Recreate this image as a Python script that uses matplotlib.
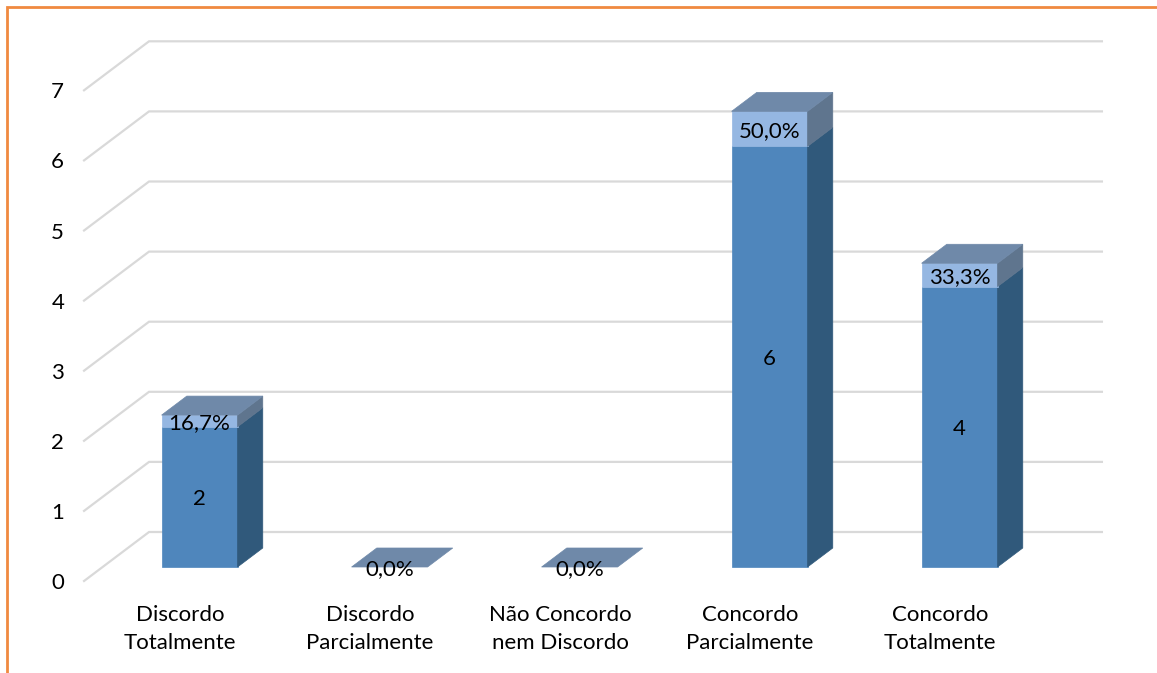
import matplotlib
matplotlib.use('Agg')
import matplotlib.pyplot as plt
from matplotlib.lines import Line2D

plt.rcParams['font.family'] = ['Lato', 'DejaVu Sans']

categories = ['Discordo\nTotalmente', 'Discordo\nParcialmente', 'Não Concordo\nnem Discordo',
              'Concordo\nParcialmente', 'Concordo\nTotalmente']
counts = [2, 0, 0, 6, 4]
shares = [16.7, 0.0, 0.0, 50.0, 33.3]
value_ticks = [0, 1, 2, 3, 4, 5, 6, 7]

W, H = 1157, 673
fig = plt.figure(figsize=(W / 100, H / 100), dpi=100, facecolor='white')
ax = fig.add_axes([85 / W, (H - 581) / H, 950 / W, (581 - 90.3) / H])
ax.set_xlim(-0.5, 4.5)
ax.set_ylim(0, 7)
for s in ax.spines.values():
    s.set_visible(False)

# depth of the fake 3d floor, in data units
dx = 65 / 190
dv = 49 / 70.1
front = 14 / 49
back = 33 / 49
half = 38 / 190
nudge = 1 / 190

ax.set_xticks(range(len(categories)))
ax.set_xticklabels(categories, fontsize=16, linespacing=1.52)
ax.set_yticks(value_ticks)
ax.tick_params(axis='x', length=0, pad=17)
ax.tick_params(axis='y', length=0, pad=15, labelsize=16)
for lab in ax.get_yticklabels():
    lab.set_va('center_baseline')

for v in value_ticks:
    ax.plot([-0.505, -0.505 + dx, 4.51 + dx], [v, v + dv, v + dv], color='#d9d9d9', lw=1.6,
            clip_on=False, zorder=1, solid_joinstyle='miter')


def box(x, v0, v1, front_c, side_c):
    x0 = x - half + front * dx + nudge
    x1 = x + half + front * dx + nudge
    off = (back - front)
    y0 = v0 + front * dv
    y1 = v1 + front * dv
    ax.fill([x0, x1, x1, x0], [y0, y0, y1, y1], color=front_c, lw=0.5, clip_on=False, zorder=3)
    ax.fill([x1, x1 + off * dx, x1 + off * dx, x1],
            [y0, y0 + off * dv, y1 + off * dv, y1], color=side_c, lw=0.5, clip_on=False, zorder=3)


def lid(x, v):
    x0 = x - half + front * dx + nudge
    x1 = x + half + front * dx + nudge
    off = (back - front)
    y = v + front * dv
    ax.fill([x0, x1, x1 + off * dx, x0 + off * dx], [y, y, y + off * dv, y + off * dv],
            color='#6f89a9', lw=0.5, clip_on=False, zorder=3)


for i, (c, p) in enumerate(zip(counts, shares)):
    if c > 0:
        box(i, 0, c, '#4f86bc', '#30597b')
        box(i, c, c + p / 100, '#95b7e2', '#5f758e')
        ax.text(i + front * dx + nudge, c / 2 + front * dv, str(c), ha='center', va='center_baseline',
                fontsize=16, color='black', zorder=5)
    lid(i, c + p / 100)
    ax.text(i + front * dx + nudge, c + p / 200 + front * dv, f'{p:.1f}%'.replace('.', ','),
            ha='center', va='center_baseline', fontsize=16, color='black', zorder=5)

# orange frame, top and left only
fig.add_artist(Line2D([7 / W, 7 / W, 1], [0, (H - 6.5) / H, (H - 6.5) / H], color='#f08a40',
                      lw=2, solid_joinstyle='miter'))

fig.savefig('out.png', dpi=100, facecolor='white')
